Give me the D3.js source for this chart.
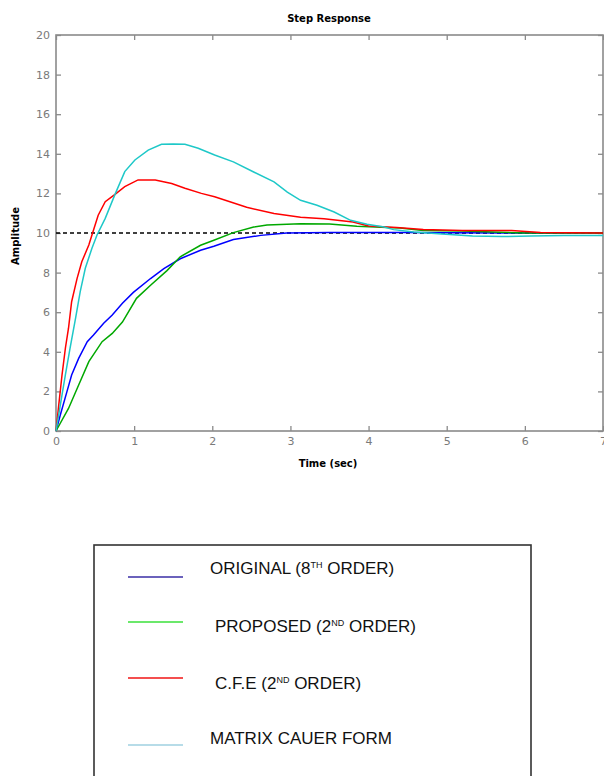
<!DOCTYPE html>
<html>
<head>
<meta charset="utf-8">
<script src="https://cdn.jsdelivr.net/npm/d3@7"></script>
<style>
  html, body { margin: 0; padding: 0; background: #fff; }
  svg { display: block; }
</style>
</head>
<body>
<svg id="chart" width="604" height="776"></svg>
<script>
// Step response of the original 8th-order system and its reduced models
const origT = [0,0.055,0.14,0.2,0.29,0.4,0.48,0.61,0.72,0.85,0.99,1.21,1.38,1.59,1.85,2.02,2.27,2.62,2.95,3.5,4.0,4.5,5.0,6.0,7.0];
const origV = [0,0.81,1.99,2.83,3.67,4.51,4.85,5.44,5.86,6.45,7.0,7.7,8.2,8.7,9.13,9.33,9.67,9.88,10.0,10.02,10.03,10.03,10.01,10.0,10.0];

const propT = [0,0.16,0.29,0.42,0.59,0.72,0.85,1.03,1.21,1.42,1.59,1.85,2.02,2.27,2.53,2.7,3.13,3.5,3.85,4.4,4.7,5.2,5.6,6.0,7.0];
const propV = [0,1.14,2.32,3.5,4.51,4.93,5.5,6.7,7.36,8.1,8.8,9.38,9.63,10.02,10.3,10.4,10.47,10.45,10.34,10.25,10.13,10.1,10.05,10.0,10.0];

const cfeT = [0,0.035,0.077,0.12,0.16,0.2,0.27,0.33,0.42,0.46,0.54,0.63,0.755,0.88,1.05,1.27,1.48,1.65,1.86,2.03,2.44,2.79,3.13,3.43,3.8,4.0,4.36,4.7,5.2,5.83,6.2,7.0];
const cfeV = [0,1.31,2.83,4.18,5.19,6.53,7.71,8.55,9.39,9.9,10.9,11.58,11.95,12.34,12.68,12.68,12.5,12.26,12.0,11.83,11.3,10.98,10.8,10.72,10.56,10.35,10.28,10.18,10.13,10.12,10.02,10.0];

const cauerT = [0,0.055,0.12,0.18,0.25,0.31,0.375,0.46,0.525,0.63,0.755,0.88,1.01,1.18,1.35,1.5,1.65,1.82,2.03,2.27,2.53,2.79,2.96,3.13,3.34,3.56,3.77,3.98,4.2,4.32,4.58,4.94,5.33,5.7,6.08,6.5,7.0];
const cauerV = [0,1.31,2.83,4.18,5.69,7.04,8.22,9.23,9.9,10.74,11.95,13.1,13.69,14.19,14.48,14.5,14.48,14.28,13.94,13.59,13.08,12.58,12.07,11.65,11.4,11.06,10.64,10.44,10.3,10.17,10.05,9.95,9.85,9.82,9.85,9.88,9.88];

const steadyState = 10;
const xTicks = [0,1,2,3,4,5,6,7];
const yTicks = [0,2,4,6,8,10,12,14,16,18,20];

const seriesNames = ["ORIGINAL", "PROPOSED", "C.F.E", "MATRIX CAUER FORM"];
const plotColors = ["#0000ff", "#00a800", "#ff0000", "#1ec8c8"];
const legendColors = ["#3a2ea6", "#3ae03a", "#f01414", "#9fd0e0"];

const svg = d3.select("#chart");
const plotLeft = 56, plotRight = 603, plotTop = 35, plotBottom = 431;

const x = d3.scaleLinear().domain([0, 7]).range([plotLeft, plotRight]);
const y = d3.scaleLinear().domain([0, 20]).range([plotBottom, plotTop]);

const axisColor = "#8a8a8a";

// Plot frame
svg.append("rect")
  .attr("x", plotLeft).attr("y", plotTop)
  .attr("width", plotRight - plotLeft).attr("height", plotBottom - plotTop)
  .attr("fill", "none").attr("stroke", axisColor).attr("stroke-width", 1.6);

// Axes with inward ticks
const tickStyle = g => {
  g.select(".domain").remove();
  g.selectAll(".tick line").attr("stroke", axisColor).attr("stroke-width", 1.3);
  g.selectAll(".tick text").attr("fill", "#7a7a7a")
    .style("font-family", "DejaVu Sans").style("font-size", "11px");
};

svg.append("g").attr("transform", `translate(0,${plotBottom})`)
  .call(d3.axisBottom(x).tickValues(xTicks).tickFormat(d3.format("d")).tickSizeInner(-5).tickPadding(6))
  .call(tickStyle);
svg.append("g").attr("transform", `translate(0,${plotTop})`)
  .call(d3.axisTop(x).tickValues(xTicks).tickFormat("").tickSizeInner(-5))
  .call(tickStyle);
svg.append("g").attr("transform", `translate(${plotLeft},0)`)
  .call(d3.axisLeft(y).tickValues(yTicks).tickFormat(d3.format("d")).tickSizeInner(-5).tickPadding(6))
  .call(tickStyle);
svg.append("g").attr("transform", `translate(${plotRight},0)`)
  .call(d3.axisRight(y).tickValues(yTicks).tickFormat("").tickSizeInner(-5))
  .call(tickStyle);

// Steady-state reference line
svg.append("line")
  .attr("x1", x(0)).attr("x2", x(7))
  .attr("y1", y(steadyState)).attr("y2", y(steadyState))
  .attr("stroke", "#000").attr("stroke-width", 1.5)
  .attr("stroke-dasharray", "4,3");

// Response curves
const series = [
  [origT, origV], [propT, propV], [cfeT, cfeV], [cauerT, cauerV]
];
const line = d3.line().x(d => x(d[0])).y(d => y(d[1]));
series.forEach(([ts, vs], i) => {
  svg.append("path")
    .datum(ts.map((t, k) => [t, vs[k]]))
    .attr("d", line)
    .attr("fill", "none")
    .attr("stroke", plotColors[i])
    .attr("stroke-width", 1.5);
});

// Titles
svg.append("text").attr("x", 329).attr("y", 22).attr("text-anchor", "middle")
  .style("font-family", "DejaVu Sans").style("font-size", "10px").style("font-weight", "bold")
  .text("Step Response");
svg.append("text").attr("x", 328).attr("y", 467).attr("text-anchor", "middle")
  .style("font-family", "DejaVu Sans").style("font-size", "10px").style("font-weight", "bold")
  .text("Time (sec)");
svg.append("text").attr("transform", "translate(19,236) rotate(-90)").attr("text-anchor", "middle")
  .style("font-family", "DejaVu Sans").style("font-size", "10px").style("font-weight", "bold")
  .text("Amplitude");

// Legend
svg.append("rect")
  .attr("x", 94).attr("y", 545).attr("width", 437).attr("height", 260)
  .attr("fill", "#fff").attr("stroke", "#333").attr("stroke-width", 1.6);

const legendLineY = [577, 622, 678, 745];
const legendTextY = [574, 632, 689, 744];
const legendTextX = [210, 215, 215, 210];
const legendParts = [
  [["ORIGINAL (8", false], ["TH", true], [" ORDER)", false]],
  [["PROPOSED (2", false], ["ND", true], [" ORDER)", false]],
  [["C.F.E (2", false], ["ND", true], [" ORDER)", false]],
  [["MATRIX CAUER FORM", false]]
];

seriesNames.forEach((name, i) => {
  svg.append("line")
    .attr("x1", 128).attr("x2", 183)
    .attr("y1", legendLineY[i]).attr("y2", legendLineY[i])
    .attr("stroke", legendColors[i]).attr("stroke-width", 1.6);
  const t = svg.append("text")
    .attr("x", legendTextX[i]).attr("y", legendTextY[i])
    .style("font-family", "Liberation Sans").style("font-size", "17px")
    .attr("fill", "#111");
  legendParts[i].forEach(([s, sup]) => {
    const span = t.append("tspan").text(s);
    if (sup) span.attr("font-size", "9px").attr("dy", -6);
    else if (s.startsWith(" ")) span.attr("dy", 6);
  });
});
</script>
</body>
</html>
